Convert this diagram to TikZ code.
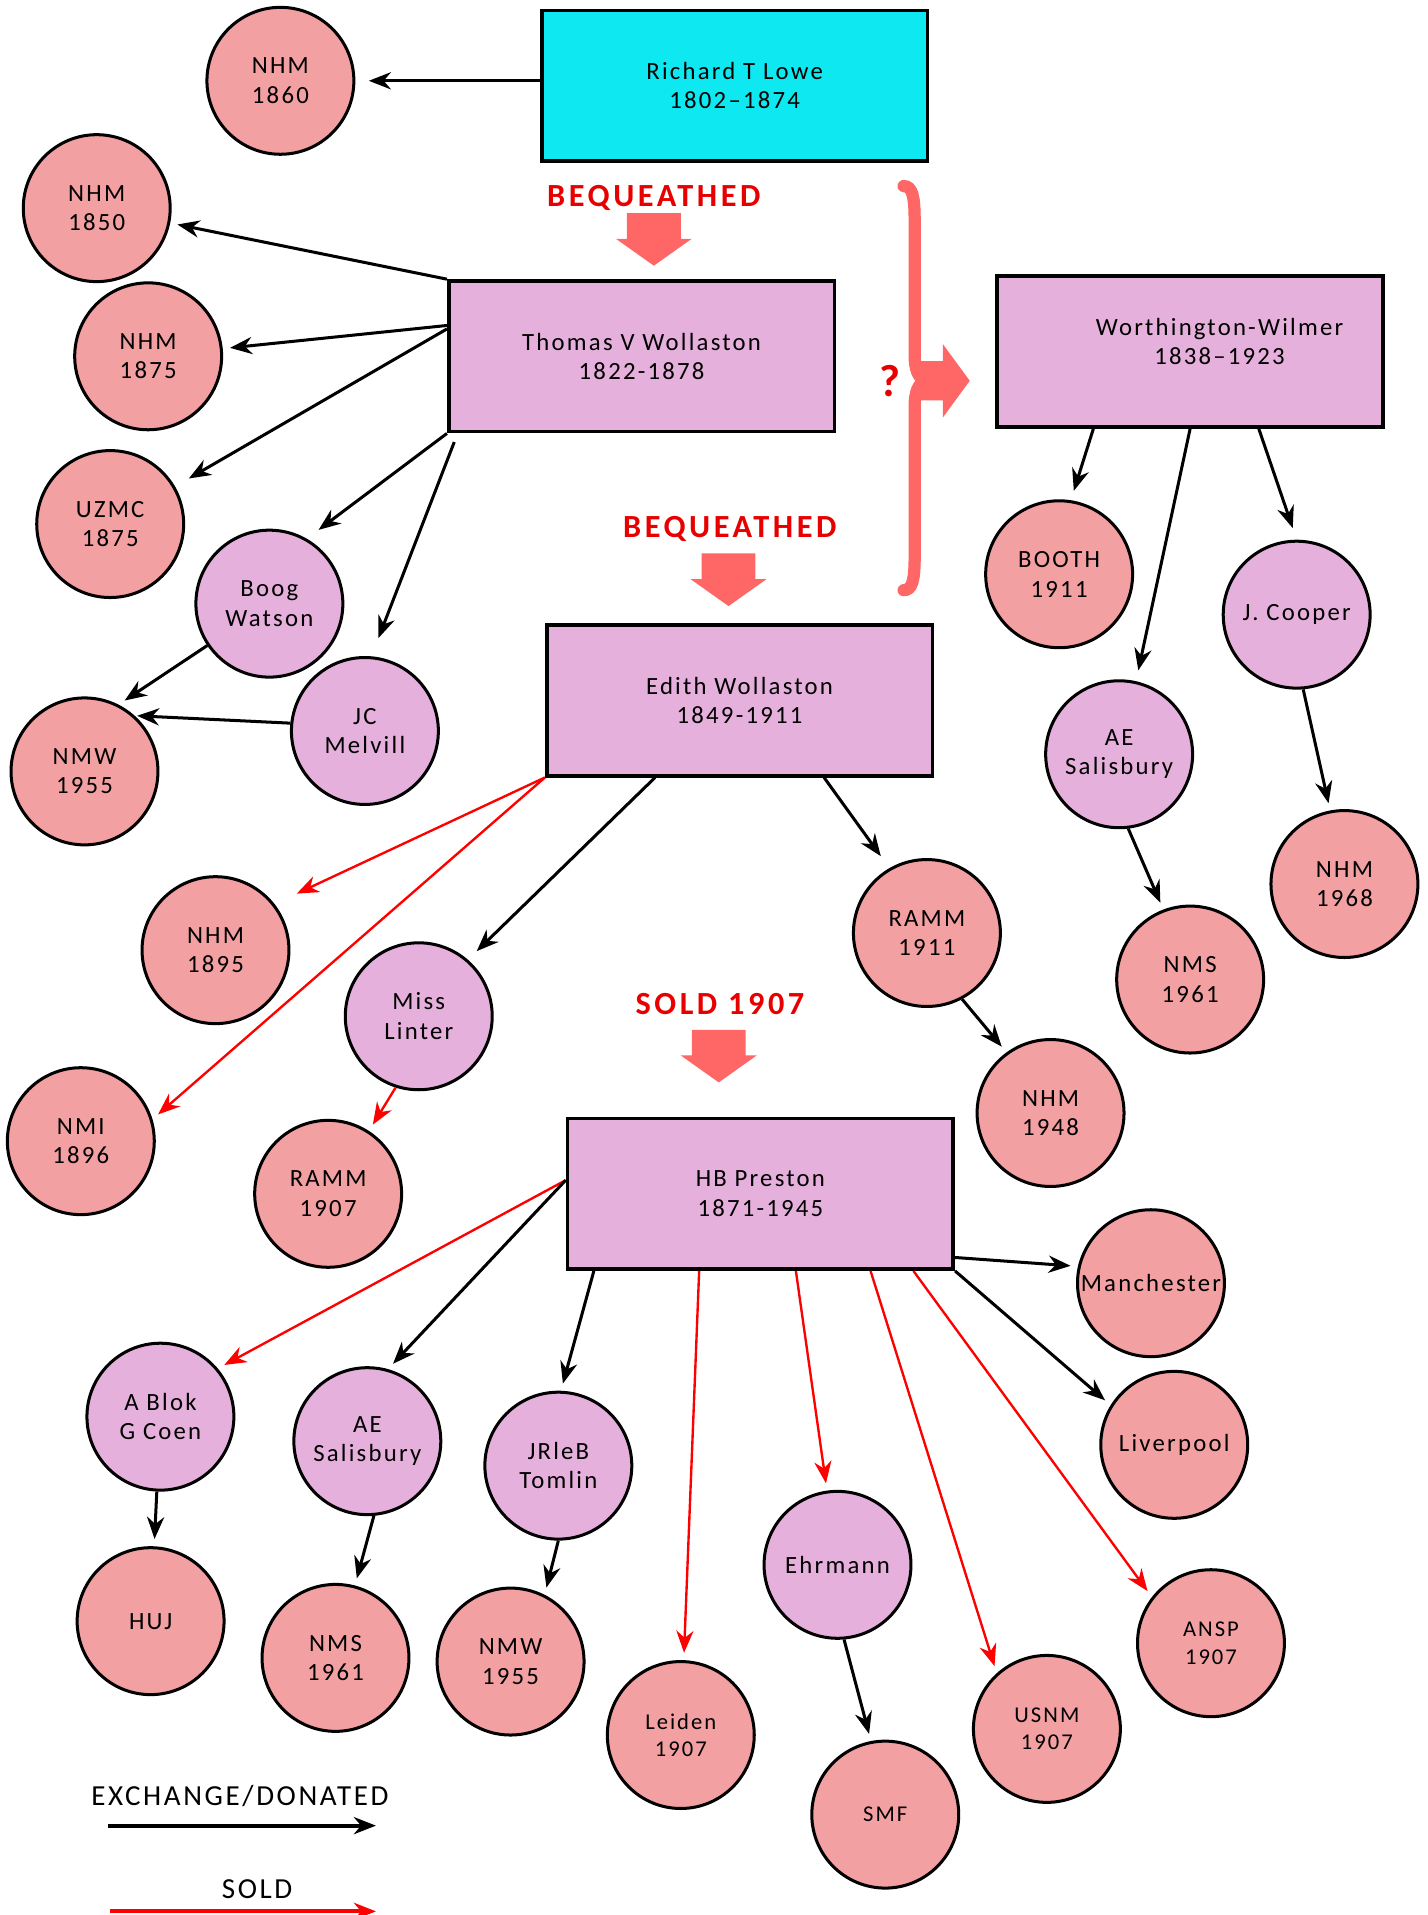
\documentclass[tikz,border=0pt]{standalone}
\usepackage{fontspec}
\setmainfont{Carlito}[LetterSpace=9]
\newfontfamily\howfont{Carlito}[LetterSpace=11]
\usetikzlibrary{arrows.meta}

\definecolor{lowecyan}{RGB}{14,232,240}
\definecolor{ownerpurple}{RGB}{230,176,220}
\definecolor{museumpink}{RGB}{243,160,163}
\definecolor{blockred}{RGB}{255,102,102}
\definecolor{howred}{RGB}{232,0,0}

\newcommand{\plainsize}{\fontsize{11.5}{13.7}\selectfont}
\newcommand{\smallsize}{\fontsize{10.5}{12.6}\selectfont}
\newcommand{\howsize}{\fontsize{15}{18}\selectfont\howfont\bfseries}

\begin{document}
\begin{tikzpicture}[x=0.2mm,y=-0.2mm,
  owner/.style={draw,line width=1.7pt,fill=ownerpurple,minimum width=63mm,minimum height=24.6mm,align=center,font=\plainsize},
  museum/.style={circle,draw,line width=1.4pt,fill=museumpink,minimum size=24mm,inner sep=0pt,align=center,font=\plainsize},
  person/.style={museum,fill=ownerpurple},
  ex/.style={-{Stealth[length=3.6mm,width=2.8mm]},line width=1.4pt,shorten >=1.2mm},
  sold/.style={ex,red,line width=1.1pt},
  how/.style={font=\howsize,text=howred},
  bigdown/.pic={\fill[blockred] (-22,-43) -- (22,-43) -- (22,-22) -- (31,-22) -- (0,0) -- (-31,-22) -- (-22,-22) -- cycle;}]
\useasboundingbox (0,0) rectangle (1166,1564);

\node[owner,fill=lowecyan] (lowe) at (600,70) {Richard T Lowe\\1802–1874};
\node[owner] (thomas) at (524,291) {Thomas V Wollaston\\1822-1878};
\node[owner,label={[xshift=4.8mm,yshift=1.6mm,align=center,font=\plainsize]center:Worthington-Wilmer\\1838–1923}] (worth) at (972,287) {};
\node[owner] (edith) at (604,572) {Edith Wollaston\\1849-1911};
\node[owner] (hb) at (621,975) {HB Preston\\1871-1945};

\node[museum] (nhm60) at (229,66) {NHM\\1860};
\node[museum] (nhm50) at (79,170) {NHM\\1850};
\node[museum] (nhm75) at (121,291) {NHM\\1875};
\node[museum] (uzmc) at (90,428) {UZMC\\1875};
\node[person] (boog) at (220,493) {Boog\\Watson};
\node[person] (melvill) at (298,597) {JC\\Melvill};
\node[museum] (nmw55a) at (69,630) {NMW\\1955};
\node[museum] (nhm95) at (176,776) {NHM\\1895};
\node[person] (linter) at (342,830) {Miss\\Linter};
\node[museum] (nmi) at (66,932) {NMI\\1896};
\node[museum] (ramm07) at (268,975) {RAMM\\1907};
\node[museum] (ramm11) at (757,762) {RAMM\\1911};
\node[museum] (nhm48) at (858,909) {NHM\\1948};
\node[museum] (booth) at (865,469) {BOOTH\\1911};
\node[person] (cooper) at (1059,502) {J. Cooper};
\node[person] (salisA) at (914,616) {AE\\Salisbury};
\node[museum] (nhm68) at (1098,722) {NHM\\1968};
\node[museum] (nmsA) at (972,800) {NMS\\1961};
\node[museum] (manch) at (940,1048) {Manchester};
\node[museum] (liver) at (959,1180) {Liverpool};
\node[person] (blok) at (131,1157) {A Blok\\G Coen};
\node[person] (salisB) at (300,1177) {AE\\Salisbury};
\node[person] (tomlin) at (456,1197) {JRleB\\Tomlin};
\node[person] (ehrmann) at (684,1278) {Ehrmann};
\node[museum] (huj) at (123,1324) {HUJ};
\node[museum] (nmsB) at (274,1354) {NMS\\1961};
\node[museum] (nmw55b) at (417,1357) {NMW\\1955};
\node[museum,font=\smallsize] (leiden) at (556,1417) {Leiden\\1907};
\node[museum,font=\smallsize] (smf) at (723,1482) {SMF};
\node[museum,font=\smallsize] (usnm) at (855,1412) {USNM\\1907};
\node[museum,font=\smallsize] (ansp) at (989,1342) {ANSP\\1907};

% how the collection moved on
\node[how] (bq1) at (534,162) {BEQUEATHED};
\pic at (534,217) {bigdown};
\node[how] (bq2) at (596,432) {BEQUEATHED};
\pic at (595,495) {bigdown};
\node[how] (sold07) at (588,820) {SOLD 1907};
\pic at (587,884) {bigdown};
\node[how,font=\fontsize{21}{24}\selectfont\howfont\bfseries] (maybe) at (727,311) {?};
\draw[blockred,line width=2mm,line cap=round] (738,152) .. controls (745,152) and (747,160) .. (747,180) -- (747,290)
  .. controls (747,302) and (750,309) .. (756,311) .. controls (750,313) and (747,320) .. (747,332) -- (747,455)
  .. controls (747,474) and (745,482) .. (738,482);
\fill[blockred] (750,295) -- (770,295) -- (770,281) -- (792,311) -- (770,341) -- (770,327) -- (750,327) -- cycle;

\draw[ex,shorten >=2.2mm] (lowe.west |- nhm60) -- (nhm60);

\draw[ex] (thomas.north west) -- (nhm50);
\draw[ex] (thomas.171) -- (nhm75);
\draw[ex,shorten >=2.6mm] (thomas.172) -- (uzmc);
\draw[ex,shorten >=2.4mm] (thomas.south west) -- (boog.60);
\draw[ex,shorten >=3.2mm] ([shift={(1.2mm,-1.4mm)}]thomas.south west) -- (melvill.85);
\draw[ex] (boog.214) -- (nmw55a.63);
\draw[ex,shorten >=0.4mm] (melvill.174) -- (nmw55a.48);

\draw[sold,shorten >=4mm] (edith.south west) -- (nhm95.38);
\draw[sold] (edith.south west) -- (nmi.17);
\draw[ex,shorten >=2mm] ([xshift=18mm]edith.south west) -- (linter.49);
\draw[ex,shorten >=2.4mm] ([xshift=45.6mm]edith.south west) -- (ramm11.120);
\draw[sold] (linter.252) -- (ramm07.57);
\draw[ex] (ramm11.298) -- (nhm48.126);

\draw[ex,shorten >=1.6mm] ([xshift=16mm]worth.south west) -- (booth.81);
\draw[ex,shorten >=1.8mm] (worth.south) -- (salisA.77);
\draw[ex,shorten >=2mm] ([xshift=43mm]worth.south west) -- (cooper.north);
\draw[ex] (cooper.275) -- (nhm68.101);
\draw[ex] (salisA.277) -- (nmsA.111);

\draw[ex] ([yshift=2.2mm]hb.south east) -- (manch.167);
\draw[ex] (hb.south east) -- (liver.148);
\draw[sold] (hb.176) -- (blok.40);
\draw[ex] (hb.176) -- (salisB.74);
\draw[ex] ([xshift=4.6mm]hb.south west) -- (tomlin.88);
\draw[sold] ([xshift=21.8mm]hb.south west) -- (leiden);
\draw[sold] ([xshift=37.6mm]hb.south west) -- (ehrmann);
\draw[sold] ([xshift=49.8mm]hb.south west) -- (usnm.132);
\draw[sold] ([xshift=56.8mm]hb.south west) -- (ansp.142);
\draw[ex] (blok) -- (huj);
\draw[ex] (salisB.275) -- (nmsB.75);
\draw[ex] (tomlin.south) -- (nmw55b.63);
\draw[ex] (ehrmann.275) -- (smf.101);

% legend
\node[font=\fontsize{13.5}{16}\selectfont] (exlabel) at (196,1467) {EXCHANGE/DONATED};
\coordinate (exA) at (88,1491);
\coordinate (exB) at (307,1491);
\draw[ex,line width=1.8pt,shorten >=0pt] (exA) -- (exB);
\node[font=\fontsize{13.5}{16}\selectfont] (soldlabel) at (210,1543) {SOLD};
\coordinate (soldA) at (90,1561);
\coordinate (soldB) at (307,1561);
\draw[sold,line width=1.8pt,shorten >=0pt] (soldA) -- (soldB);
\end{tikzpicture}
\end{document}
